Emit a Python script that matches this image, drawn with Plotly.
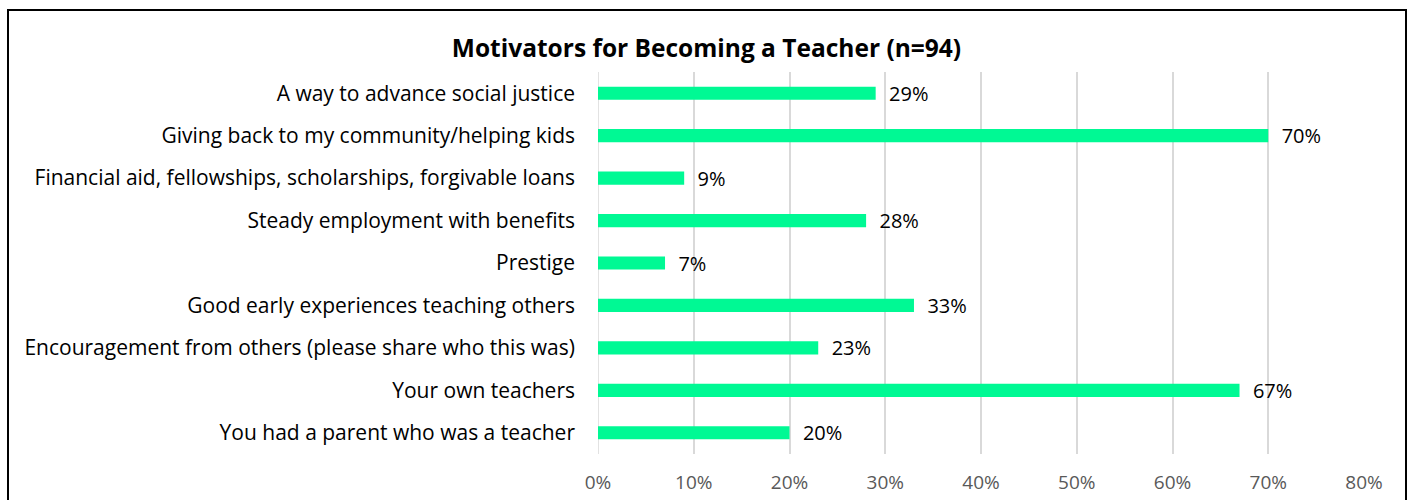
import plotly.graph_objects as go

categories = [
    "A way to advance social justice",
    "Giving back to my community/helping kids",
    "Financial aid, fellowships, scholarships, forgivable loans",
    "Steady employment with benefits",
    "Prestige",
    "Good early experiences teaching others",
    "Encouragement from others (please share who this was)",
    "Your own teachers",
    "You had a parent who was a teacher",
]
values = [0.29, 0.70, 0.09, 0.28, 0.07, 0.33, 0.23, 0.67, 0.20]
tick_vals = [0, 0.1, 0.2, 0.3, 0.4, 0.5, 0.6, 0.7, 0.8]
tick_text = ["0%", "10%", "20%", "30%", "40%", "50%", "60%", "70%", "80%"]
title_text = "Motivators for Becoming a Teacher (n=94)"

FONT = "Open Sans"

fig = go.Figure(go.Bar(
    y=categories,
    x=values,
    orientation="h",
    marker=dict(color="#00F994", line=dict(width=0)),
    text=["  " + f"{round(v*100)}%" for v in values],
    textposition="outside",
    constraintext="none",
    textfont=dict(family=FONT, size=20, color="#000000"),
    cliponaxis=False,
    hoverinfo="skip",
))

L, R, T, B = 598, 49, 72, 46
W, H = 1413, 500
pw = W - L - R
ph = H - T - B

def px_x(p):
    return (p - L) / pw

def px_y(p):
    return (H - B - p) / ph

fig.update_layout(
    width=W, height=H,
    margin=dict(l=L, r=R, t=T, b=B, autoexpand=False),
    paper_bgcolor="white",
    plot_bgcolor="white",
    bargap=0.69,
    showlegend=False,
    title=dict(
        text="<b>" + title_text + "</b>",
        x=0.5, xanchor="center", xref="container",
        y=1 - 48 / H, yanchor="middle", yref="container",
        font=dict(family=FONT, size=24.5, color="#000000"),
    ),
    xaxis=dict(
        range=[0, 0.8],
        tickvals=tick_vals,
        ticktext=tick_text,
        showgrid=True,
        gridcolor="#D9D9D9",
        gridwidth=1.5,
        zeroline=False,
        showline=False,
        ticks="",
        ticklabelstandoff=15,
        tickfont=dict(family=FONT, size=19, color="#595959"),
    ),
    yaxis=dict(
        autorange="reversed",
        showgrid=False,
        zeroline=False,
        showline=False,
        ticks="",
        ticklabelstandoff=22,
        tickfont=dict(family=FONT, size=21, color="#000000"),
    ),
    shapes=[
        dict(type="line", xref="x", yref="paper", x0=0, x1=0, y0=0, y1=1,
             line=dict(color="#D9D9D9", width=1.5), layer="below"),
        dict(type="rect", xref="paper", yref="paper",
             x0=px_x(8), x1=px_x(1406), y0=px_y(520), y1=px_y(10),
             line=dict(color="#000000", width=2), fillcolor="rgba(0,0,0,0)"),
    ],
)

fig.write_html(
    "out.html",
    config={"displayModeBar": False},
    post_script="document.body.style.margin='0';document.body.style.overflow='hidden';",
)
